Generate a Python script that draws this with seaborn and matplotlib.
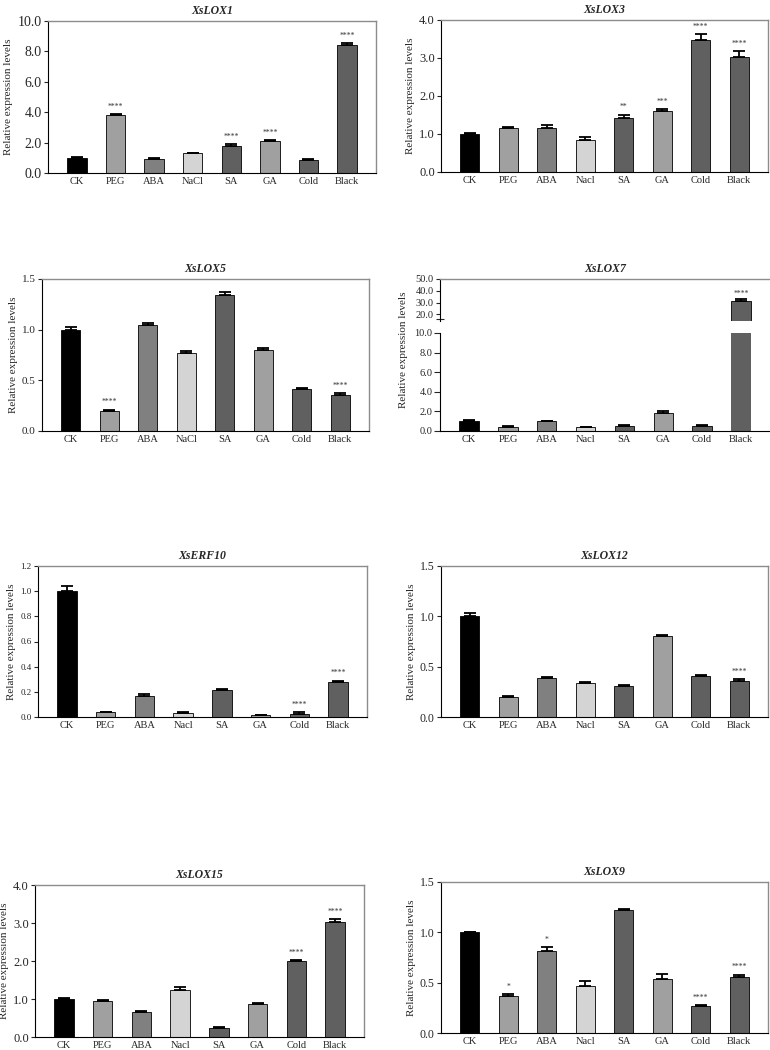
import numpy as np
import matplotlib
matplotlib.use("Agg")
import matplotlib.pyplot as plt
import seaborn as sns

# conditions (two spellings of NaCl are used in the original panels)
labels_nacl = ["CK", "PEG", "ABA", "NaCl", "SA", "GA", "Cold", "Black"]
labels_nacl2 = ["CK", "PEG", "ABA", "Nacl", "SA", "GA", "Cold", "Black"]
bar_colors = ["#000000", "#a0a0a0", "#808080", "#d4d4d4",
              "#606060", "#a0a0a0", "#606060", "#606060"]

# relative expression (mean, upper error, significance)
lox1_mean = [1.00, 3.82, 0.93, 1.29, 1.80, 2.09, 0.84, 8.40]
lox1_err = [0.04, 0.05, 0.05, 0.03, 0.11, 0.07, 0.05, 0.16]
lox1_sig = ["", "****", "", "", "****", "****", "", "****"]

lox3_mean = [1.00, 1.17, 1.17, 0.85, 1.43, 1.61, 3.47, 3.03]
lox3_err = [0.02, 0.02, 0.07, 0.08, 0.08, 0.05, 0.15, 0.15]
lox3_sig = ["", "", "", "", "**", "***", "****", "****"]

lox5_mean = [1.00, 0.20, 1.045, 0.77, 1.34, 0.80, 0.41, 0.355]
lox5_err = [0.03, 0.01, 0.025, 0.02, 0.03, 0.015, 0.01, 0.02]
lox5_sig = ["", "****", "", "", "", "", "", "****"]

lox7_mean = [0.98, 0.38, 0.98, 0.37, 0.50, 1.86, 0.50, 31.8]
lox7_err = [0.15, 0.12, 0.07, 0.07, 0.10, 0.17, 0.14, 1.3]
lox7_sig = ["", "", "", "", "", "", "", "****"]

erf10_mean = [1.00, 0.037, 0.168, 0.032, 0.213, 0.013, 0.026, 0.276]
erf10_err = [0.04, 0.004, 0.011, 0.008, 0.013, 0.002, 0.011, 0.013]
erf10_sig = ["", "", "", "", "", "", "****", "****"]

lox12_mean = [1.00, 0.197, 0.388, 0.339, 0.309, 0.80, 0.411, 0.358]
lox12_err = [0.03, 0.01, 0.01, 0.013, 0.013, 0.017, 0.009, 0.017]
lox12_sig = ["", "", "", "", "", "", "", "****"]

lox15_mean = [0.99, 0.96, 0.65, 1.25, 0.246, 0.86, 2.00, 3.02]
lox15_err = [0.04, 0.02, 0.045, 0.07, 0.015, 0.03, 0.025, 0.09]
lox15_sig = ["", "", "", "", "", "", "****", "****"]

lox9_mean = [1.00, 0.366, 0.81, 0.465, 1.22, 0.534, 0.264, 0.56]
lox9_err = [0.0, 0.024, 0.045, 0.05, 0.013, 0.053, 0.016, 0.02]
lox9_sig = ["", "*", "*", "", "", "", "****", "****"]

sns.set_style("ticks")
plt.rcParams["font.family"] = ["Liberation Serif", "DejaVu Serif"]

fig = plt.figure(figsize=(7.7, 10.5), dpi=100)
fmt1 = matplotlib.ticker.FormatStrFormatter("%.1f")


def style_axes(ax, ytick_size, xtick_size=7.5, top=True, bottom=True, right=True):
    for side in ["left", "bottom"]:
        ax.spines[side].set_color("black")
        ax.spines[side].set_linewidth(0.8)
    for side in ["top", "right"]:
        ax.spines[side].set_color("#8c8c8c")
        ax.spines[side].set_linewidth(1.0)
    ax.spines["top"].set_visible(top)
    ax.spines["bottom"].set_visible(bottom)
    ax.spines["right"].set_visible(right)
    ax.tick_params(axis="y", direction="out", length=3, width=0.8, labelsize=ytick_size, pad=1.5)
    ax.tick_params(axis="x", length=0, labelsize=xtick_size, pad=3)
    ax.set_xlabel("")
    ax.set_ylabel("")


def draw_bars(ax, labels, mean, err, sig, ymax, star_size=5.5):
    sns.barplot(x=labels, y=mean, hue=labels, palette=bar_colors, legend=False,
                width=0.5, edgecolor="black", linewidth=0.6, errorbar=None, ax=ax,
                order=labels, hue_order=labels)
    xs = np.arange(len(labels))
    ax.errorbar(xs, mean, yerr=[np.zeros(len(err)), err], fmt="none",
                ecolor="black", elinewidth=1.3, capsize=4, capthick=1.3)
    for x, m, e, s in zip(xs, mean, err, sig):
        if s:
            ax.text(x, m + e + ymax * 0.022, s, ha="center", va="bottom",
                    fontsize=star_size, color="#333333")
    ax.set_xlim(-0.75, len(labels) - 0.25)


def panel(rect, labels, mean, err, sig, title, ymax, step, ytick_size=8.5, xtick_size=7.5):
    ax = fig.add_axes(rect)
    draw_bars(ax, labels, mean, err, sig, ymax)
    ax.set_ylim(0, ymax)
    ax.set_yticks(np.arange(0, ymax + step / 2, step))
    ax.yaxis.set_major_formatter(fmt1)
    style_axes(ax, ytick_size, xtick_size)
    ax.set_title(title, fontsize=8.5, fontweight="bold", style="italic", pad=5)
    ax.set_ylabel("Relative expression levels", fontsize=8, labelpad=3)
    return ax


W, H = 770, 1050


def rect(left, right, top, bottom):
    return [left / W, 1 - bottom / H, (right - left) / W, (bottom - top) / H]


panel(rect(48, 376, 21, 173), labels_nacl, lox1_mean, lox1_err, lox1_sig, "XsLOX1", 10, 2, ytick_size=10)
panel(rect(441, 768, 20, 172), labels_nacl2, lox3_mean, lox3_err, lox3_sig, "XsLOX3", 4, 1, ytick_size=9)
panel(rect(42, 369, 279, 431), labels_nacl, lox5_mean, lox5_err, lox5_sig, "XsLOX5", 1.5, 0.5, ytick_size=8)

# XsLOX7 with a broken y axis
ax_hi = fig.add_axes(rect(440, 770, 279, 321))
draw_bars(ax_hi, labels_nacl2, lox7_mean, lox7_err, lox7_sig, 35)
ax_hi.set_ylim(14.5, 50)
ax_hi.set_yticks([20, 30, 40, 50])
ax_hi.set_yticks([16.5], minor=True)
ax_hi.yaxis.set_major_formatter(fmt1)
style_axes(ax_hi, 7.5, bottom=False, right=False)
ax_hi.tick_params(axis="y", which="minor", direction="inout", length=6, width=0.8)
ax_hi.set_xticklabels([])
ax_hi.set_title("XsLOX7", fontsize=8.5, fontweight="bold", style="italic", pad=5)

ax_lo = fig.add_axes(rect(440, 770, 333, 431))
draw_bars(ax_lo, labels_nacl2, lox7_mean[:7] + [np.nan], lox7_err[:7] + [np.nan],
          lox7_sig[:7] + [""], 10)
ax_lo.bar(7, 10, width=0.5, color=bar_colors[7], edgecolor="none")
ax_lo.set_ylim(0, 10)
ax_lo.set_yticks(np.arange(0, 10.1, 2))
ax_lo.yaxis.set_major_formatter(fmt1)
style_axes(ax_lo, 7.5, top=False, right=False)
ax_lo.tick_params(axis="y", length=4)
fig.text(404 / W, 1 - 350 / H, "Relative expression levels",
         rotation=90, ha="center", va="center", fontsize=8)

panel(rect(38, 367, 566, 717), labels_nacl2, erf10_mean, erf10_err, erf10_sig, "XsERF10", 1.2, 0.2,
      ytick_size=6.5)
panel(rect(441, 768, 566, 717), labels_nacl2, lox12_mean, lox12_err, lox12_sig, "XsLOX12", 1.5, 0.5)
panel(rect(35, 364, 885, 1037), labels_nacl2, lox15_mean, lox15_err, lox15_sig, "XsLOX15", 4, 1, ytick_size=9)
panel(rect(441, 768, 882, 1033), labels_nacl2, lox9_mean, lox9_err, lox9_sig, "XsLOX9", 1.5, 0.5)

fig.savefig("out.png", dpi=100)
